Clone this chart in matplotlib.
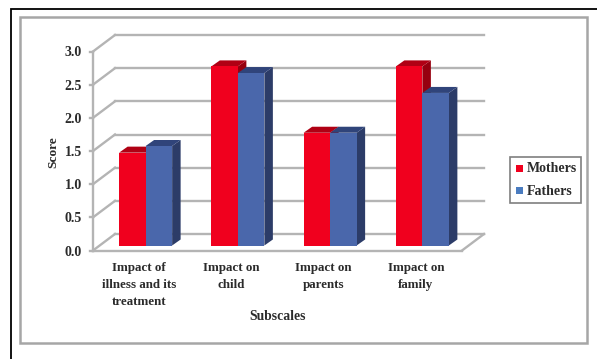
import matplotlib
matplotlib.use("Agg")
import matplotlib.pyplot as plt
from matplotlib.patches import Polygon, Rectangle
from matplotlib.lines import Line2D

categories = ["Impact of\nillness and its\ntreatment", "Impact on\nchild", "Impact on\nparents", "Impact on\nfamily"]
mothers = [1.4, 2.7, 1.7, 2.7]
fathers = [1.5, 2.6, 1.7, 2.3]
y_ticks = [0.0, 0.5, 1.0, 1.5, 2.0, 2.5, 3.0]

W, H = 597, 359
plt.rcParams["font.family"] = ["Liberation Serif", "DejaVu Serif"]
plt.rcParams["font.weight"] = "bold"
TEXT = "#2b2b2b"
GRID = "#b4b4b4"

fig = plt.figure(figsize=(W / 100, H / 100), dpi=100, facecolor="white")

# Page-level frames use pixel coordinates with the origin at the top left
page = fig.add_axes([0, 0, 1, 1])
page.set_xlim(0, W)
page.set_ylim(H, 0)
page.axis("off")
page.plot([10.5, 10.5, W], [H, 8.5, 8.5], color="black", lw=1.3, solid_joinstyle="miter")
page.add_patch(Rectangle((20, 17), 567, 325.5, fill=False, ec="#a6a6a6", lw=1.8))

# Front plane of the chart: x runs over category slots, y over the score
left, right, bottom, top = 93, 462, 250.5, 51.5
ax = fig.add_axes([left / W, 1 - bottom / H, (right - left) / W, (bottom - top) / H])
ax.set_xlim(0, 4)
ax.set_ylim(0, 3)
ax.patch.set_alpha(0)
for side in ax.spines.values():
    side.set_visible(False)

px_x = 4 / (right - left)
px_y = 3 / (bottom - top)
wall_dx, wall_dy = 22 * px_x, 16.5 * px_y
bar_dx, bar_dy = 8.5 * px_x, 6 * px_y
shift_x, shift_y = 6.5 * px_x, 5 * px_y
bar_w = 26.5 * px_x


def line(xs, ys, **kw):
    ax.add_line(Line2D(xs, ys, color=GRID, lw=1.7, clip_on=False, **kw))


# Back wall, side wall and floor
for v in y_ticks:
    line([0, wall_dx], [v, v + wall_dy])
    line([wall_dx, 4 + wall_dx], [v + wall_dy, v + wall_dy])
    line([-3 * px_x, 0], [v, v])
line([0, 0], [0, 3])
line([0, 4], [0, 0])
line([4, 4 + wall_dx], [0, wall_dy])


def draw_bar(x0, value, front, roof, flank, order):
    base = shift_y
    x1 = x0 + bar_w
    ax.add_patch(Polygon([(x1, base), (x1 + bar_dx, base + bar_dy),
                          (x1 + bar_dx, value + base + bar_dy), (x1, value + base)],
                         fc=flank, ec="none", zorder=order, clip_on=False))
    ax.add_patch(Polygon([(x0, value + base), (x0 + bar_dx, value + base + bar_dy),
                          (x1 + bar_dx, value + base + bar_dy), (x1, value + base)],
                         fc=roof, ec="none", zorder=order, clip_on=False))
    ax.bar(x0, value, width=bar_w, bottom=base, align="edge", color=front,
           linewidth=0, zorder=order + 0.1, clip_on=False)


# Mothers are drawn first so the fathers' bar overlaps their side face
for i, (m, f) in enumerate(zip(mothers, fathers)):
    start = i + 0.5 + shift_x - bar_w
    draw_bar(start, m, "#f0001e", "#b00014", "#96000f", 3)
    draw_bar(start + bar_w, f, "#4a67ab", "#30447a", "#2c3c68", 4)

ax.set_yticks(y_ticks, [f"{v:.1f}" for v in y_ticks], fontsize=10, color=TEXT)
ax.set_xticks([i + 0.5 for i in range(4)], categories, fontsize=9.4, color=TEXT, linespacing=1.58)
ax.tick_params(axis="both", length=0)
ax.tick_params(axis="y", pad=8)
ax.tick_params(axis="x", pad=8)
ax.set_xlabel("Subscales", fontsize=9.8, fontweight="bold", color=TEXT, labelpad=1.5)
fig.text(53.5 / W, 1 - 152 / H, "Score", rotation=90, ha="center", va="center",
         fontsize=9.6, fontweight="bold", color=TEXT)

# Legend box
page.add_patch(Rectangle((509.5, 156.5), 71, 46, fc="white", ec="#7f7f7f", lw=1.2))
page.add_patch(Rectangle((515.5, 164.5), 7, 7, fc="#f0001e", ec="none"))
page.add_patch(Rectangle((515.5, 187), 7, 7, fc="#4a7cc0", ec="none"))
page.text(527, 168.5, "Mothers", fontsize=10, color=TEXT, va="center", ha="left")
page.text(527, 191.5, "Fathers", fontsize=10, color=TEXT, va="center", ha="left")

fig.savefig("out.png", dpi=100, facecolor="white")
